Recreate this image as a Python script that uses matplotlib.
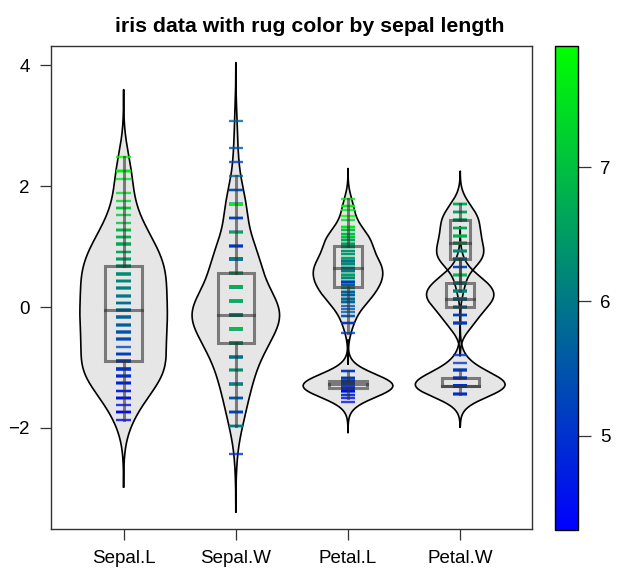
import numpy as np
import matplotlib
matplotlib.use("Agg")
import matplotlib.pyplot as plt
from matplotlib.colors import LinearSegmentedColormap, Normalize
from matplotlib.colorbar import ColorbarBase
from matplotlib.collections import LineCollection
from matplotlib.patches import Rectangle

plt.rcParams['font.family'] = ['Liberation Sans', 'DejaVu Sans']

# iris data (Sepal.Length, Sepal.Width, Petal.Length, Petal.Width)
sepal_length = [5.1, 4.9, 4.7, 4.6, 5.0, 5.4, 4.6, 5.0, 4.4, 4.9, 5.4, 4.8, 4.8, 4.3, 5.8, 5.7, 5.4, 5.1, 5.7, 5.1,
                5.4, 5.1, 4.6, 5.1, 4.8, 5.0, 5.0, 5.2, 5.2, 4.7, 4.8, 5.4, 5.2, 5.5, 4.9, 5.0, 5.5, 4.9, 4.4, 5.1,
                5.0, 4.5, 4.4, 5.0, 5.1, 4.8, 5.1, 4.6, 5.3, 5.0,
                7.0, 6.4, 6.9, 5.5, 6.5, 5.7, 6.3, 4.9, 6.6, 5.2, 5.0, 5.9, 6.0, 6.1, 5.6, 6.7, 5.6, 5.8, 6.2, 5.6,
                5.9, 6.1, 6.3, 6.1, 6.4, 6.6, 6.8, 6.7, 6.0, 5.7, 5.5, 5.5, 5.8, 6.0, 5.4, 6.0, 6.7, 6.3, 5.6, 5.5,
                5.5, 6.1, 5.8, 5.0, 5.6, 5.7, 5.7, 6.2, 5.1, 5.7,
                6.3, 5.8, 7.1, 6.3, 6.5, 7.6, 4.9, 7.3, 6.7, 7.2, 6.5, 6.4, 6.8, 5.7, 5.8, 6.4, 6.5, 7.7, 7.7, 6.0,
                6.9, 5.6, 7.7, 6.3, 6.7, 7.2, 6.2, 6.1, 6.4, 7.2, 7.4, 7.9, 6.4, 6.3, 6.1, 7.7, 6.3, 6.4, 6.0, 6.9,
                6.7, 6.9, 5.8, 6.8, 6.7, 6.7, 6.3, 6.5, 6.2, 5.9]
sepal_width = [3.5, 3.0, 3.2, 3.1, 3.6, 3.9, 3.4, 3.4, 2.9, 3.1, 3.7, 3.4, 3.0, 3.0, 4.0, 4.4, 3.9, 3.5, 3.8, 3.8,
               3.4, 3.7, 3.6, 3.3, 3.4, 3.0, 3.4, 3.5, 3.4, 3.2, 3.1, 3.4, 4.1, 4.2, 3.1, 3.2, 3.5, 3.6, 3.0, 3.4,
               3.5, 2.3, 3.2, 3.5, 3.8, 3.0, 3.8, 3.2, 3.7, 3.3,
               3.2, 3.2, 3.1, 2.3, 2.8, 2.8, 3.3, 2.4, 2.9, 2.7, 2.0, 3.0, 2.2, 2.9, 2.9, 3.1, 3.0, 2.7, 2.2, 2.5,
               3.2, 2.8, 2.5, 2.8, 2.9, 3.0, 2.8, 3.0, 2.9, 2.6, 2.4, 2.4, 2.7, 2.7, 3.0, 3.4, 3.1, 2.3, 3.0, 2.5,
               2.6, 3.0, 2.6, 2.3, 2.7, 3.0, 2.9, 2.9, 2.5, 2.8,
               3.3, 2.7, 3.0, 2.9, 3.0, 3.0, 2.5, 2.9, 2.5, 3.6, 3.2, 2.7, 3.0, 2.5, 2.8, 3.2, 3.0, 3.8, 2.6, 2.2,
               3.2, 2.8, 2.8, 2.7, 3.3, 3.2, 2.8, 3.0, 2.8, 3.0, 2.8, 3.8, 2.8, 2.8, 2.6, 3.0, 3.4, 3.1, 3.0, 3.1,
               3.1, 3.1, 2.7, 3.2, 3.3, 3.0, 2.5, 3.0, 3.4, 3.0]
petal_length = [1.4, 1.4, 1.3, 1.5, 1.4, 1.7, 1.4, 1.5, 1.4, 1.5, 1.5, 1.6, 1.4, 1.1, 1.2, 1.5, 1.3, 1.4, 1.7, 1.5,
                1.7, 1.5, 1.0, 1.7, 1.9, 1.6, 1.6, 1.5, 1.4, 1.6, 1.6, 1.5, 1.5, 1.4, 1.5, 1.2, 1.3, 1.4, 1.3, 1.5,
                1.3, 1.3, 1.3, 1.6, 1.9, 1.4, 1.6, 1.4, 1.5, 1.4,
                4.7, 4.5, 4.9, 4.0, 4.6, 4.5, 4.7, 3.3, 4.6, 3.9, 3.5, 4.2, 4.0, 4.7, 3.6, 4.4, 4.5, 4.1, 4.5, 3.9,
                4.8, 4.0, 4.9, 4.7, 4.3, 4.4, 4.8, 5.0, 4.5, 3.5, 3.8, 3.7, 3.9, 5.1, 4.5, 4.5, 4.7, 4.4, 4.1, 4.0,
                4.4, 4.6, 4.0, 3.3, 4.2, 4.2, 4.2, 4.3, 3.0, 4.1,
                6.0, 5.1, 5.9, 5.6, 5.8, 6.6, 4.5, 6.3, 5.8, 6.1, 5.1, 5.3, 5.5, 5.0, 5.1, 5.3, 5.5, 6.7, 6.9, 5.0,
                5.7, 4.9, 6.7, 4.9, 5.7, 6.0, 4.8, 4.9, 5.6, 5.8, 6.1, 6.4, 5.6, 5.1, 5.6, 6.1, 5.6, 5.5, 4.8, 5.4,
                5.6, 5.1, 5.1, 5.9, 5.7, 5.2, 5.0, 5.2, 5.4, 5.1]
petal_width = [0.2, 0.2, 0.2, 0.2, 0.2, 0.4, 0.3, 0.2, 0.2, 0.1, 0.2, 0.2, 0.1, 0.1, 0.2, 0.4, 0.4, 0.3, 0.3, 0.3,
               0.2, 0.4, 0.2, 0.5, 0.2, 0.2, 0.4, 0.2, 0.2, 0.2, 0.2, 0.4, 0.1, 0.2, 0.2, 0.2, 0.2, 0.1, 0.2, 0.2,
               0.3, 0.3, 0.2, 0.6, 0.4, 0.3, 0.2, 0.2, 0.2, 0.2,
               1.4, 1.5, 1.5, 1.3, 1.5, 1.3, 1.6, 1.0, 1.3, 1.4, 1.0, 1.5, 1.0, 1.4, 1.3, 1.4, 1.5, 1.0, 1.5, 1.1,
               1.8, 1.3, 1.5, 1.2, 1.3, 1.4, 1.4, 1.7, 1.5, 1.0, 1.1, 1.0, 1.2, 1.6, 1.5, 1.6, 1.5, 1.3, 1.3, 1.3,
               1.2, 1.4, 1.2, 1.0, 1.3, 1.2, 1.3, 1.3, 1.1, 1.3,
               2.5, 1.9, 2.1, 1.8, 2.2, 2.1, 1.7, 1.8, 1.8, 2.5, 2.0, 1.9, 2.1, 2.0, 2.4, 2.3, 1.8, 2.2, 2.3, 1.5,
               2.3, 2.0, 2.0, 1.8, 2.1, 1.8, 1.8, 1.8, 2.1, 1.6, 1.9, 2.0, 2.2, 1.5, 1.4, 2.3, 2.4, 1.8, 1.8, 2.1,
               2.4, 2.3, 1.9, 2.3, 2.5, 2.3, 1.9, 2.0, 2.3, 1.8]
species = ["setosa"] * 50 + ["versicolor"] * 50 + ["virginica"] * 50

var_labels = ["Sepal.L", "Sepal.W", "Petal.L", "Petal.W"]
# which species make up each violin of a variable
var_groups = [
    [["setosa", "versicolor", "virginica"]],
    [["setosa", "versicolor", "virginica"]],
    [["setosa"], ["versicolor", "virginica"]],
    [["setosa"], ["versicolor"], ["virginica"]],
]
kde_bw = [0.37, 0.32, 0.17, 0.18]
# max half width of each violin (x units)
violin_half = [[0.39], [0.39], [0.40, 0.31], [0.40, 0.30, 0.21]]

title = "iris data with rug color by sepal length"


def fivenum(x):
    x = np.sort(x)
    n = len(x)
    n4 = np.floor((n + 3) / 2) / 2
    d = np.array([1, n4, (n + 1) / 2, n + 1 - n4, n]) - 1
    return 0.5 * (x[np.floor(d).astype(int)] + x[np.ceil(d).astype(int)])


def kde(x, bw):
    grid = np.linspace(x.min() - 3 * bw, x.max() + 3 * bw, 512)
    z = (grid[:, None] - x[None, :]) / bw
    dens = np.exp(-0.5 * z ** 2).sum(axis=1) / (bw * np.sqrt(2 * np.pi))
    return grid, dens


cmap = LinearSegmentedColormap.from_list("bg", ["#0000FF", "#00FF00"])
norm = Normalize(vmin=4.3, vmax=7.9)
rug_colors = cmap(norm(np.array(sepal_length)))

fig = plt.figure(figsize=(6.39, 5.81), dpi=100)
ax = fig.add_axes([50.7 / 639, 1 - 529 / 581, (532 - 50.7) / 639, (529 - 45.7) / 581])

sp = np.array(species)
all_vars = [sepal_length, sepal_width, petal_length, petal_width]

for i, values in enumerate(all_vars):
    pos = i + 1
    v = np.array(values, dtype=float)
    z = (v - v.mean()) / v.std(ddof=1)

    shapes = []
    for j, grp in enumerate(var_groups[i]):
        sub = z[np.isin(sp, grp)]
        g, d = kde(sub, kde_bw[i])
        shapes.append((sub, g, d / d.max() * violin_half[i][j], violin_half[i][j]))

    # violin fills, then outlines
    for sub, g, w, hw in shapes:
        ax.fill_betweenx(g, pos - w, pos + w, color="#E6E6E6", lw=0, zorder=1)
    for sub, g, w, hw in shapes:
        ax.plot(np.r_[pos - w, (pos + w)[::-1], pos - w[0]], np.r_[g, g[::-1], g[0]],
                color="black", lw=1.2, zorder=2)

    # rug coloured by sepal length
    segs = [[(pos - 0.065, y), (pos + 0.065, y)] for y in z]
    ax.add_collection(LineCollection(segs, colors=rug_colors, linewidths=1.7, alpha=0.8, zorder=3))

    # box and whiskers for each violin
    for sub, g, w, hw in shapes:
        bh = 0.415 * hw
        lo, q1, med, q3, hi = fivenum(sub)
        iqr = q3 - q1
        wlo = sub[sub >= q1 - 1.5 * iqr].min()
        whi = sub[sub <= q3 + 1.5 * iqr].max()
        bc = (0.2, 0.2, 0.2, 0.6)
        ax.add_patch(Rectangle((pos - bh, q1), 2 * bh, q3 - q1, fill=False, ec=bc, lw=2.2, zorder=4))
        ax.plot([pos - bh, pos + bh], [med, med], color=bc, lw=2.2, zorder=4)
        ax.plot([pos, pos], [q3, whi], color=bc, lw=2.2, zorder=4)
        ax.plot([pos, pos], [wlo, q1], color=bc, lw=2.2, zorder=4)

ax.set_xlim(0.35, 4.64)
ax.set_ylim(-3.67, 4.32)
ax.set_xticks([1, 2, 3, 4])
ax.set_xticklabels(var_labels)
ax.set_yticks([-2, 0, 2, 4])
ax.set_yticklabels(["\u22122", "0", "2", "4"])
ax.tick_params(direction="out", length=8, width=0.9, labelsize=13.5, color="#333333", pad=7)
for s in ax.spines.values():
    s.set_linewidth(1.0)
    s.set_color("#333333")

fig.text(310 / 639, 1 - 26 / 581, title, ha="center", va="center", fontsize=15.3, fontweight="bold")

cax = fig.add_axes([555 / 639, 1 - 530 / 581, 23 / 639, 484 / 581])
cb = ColorbarBase(cax, cmap=cmap, norm=norm)
cb.set_ticks([5, 6, 7])
cb.outline.set_linewidth(1.0)
cax.tick_params(direction="out", length=9, width=0.9, labelsize=13.5, color="#333333", pad=7)

fig.savefig("out.png", dpi=100)
